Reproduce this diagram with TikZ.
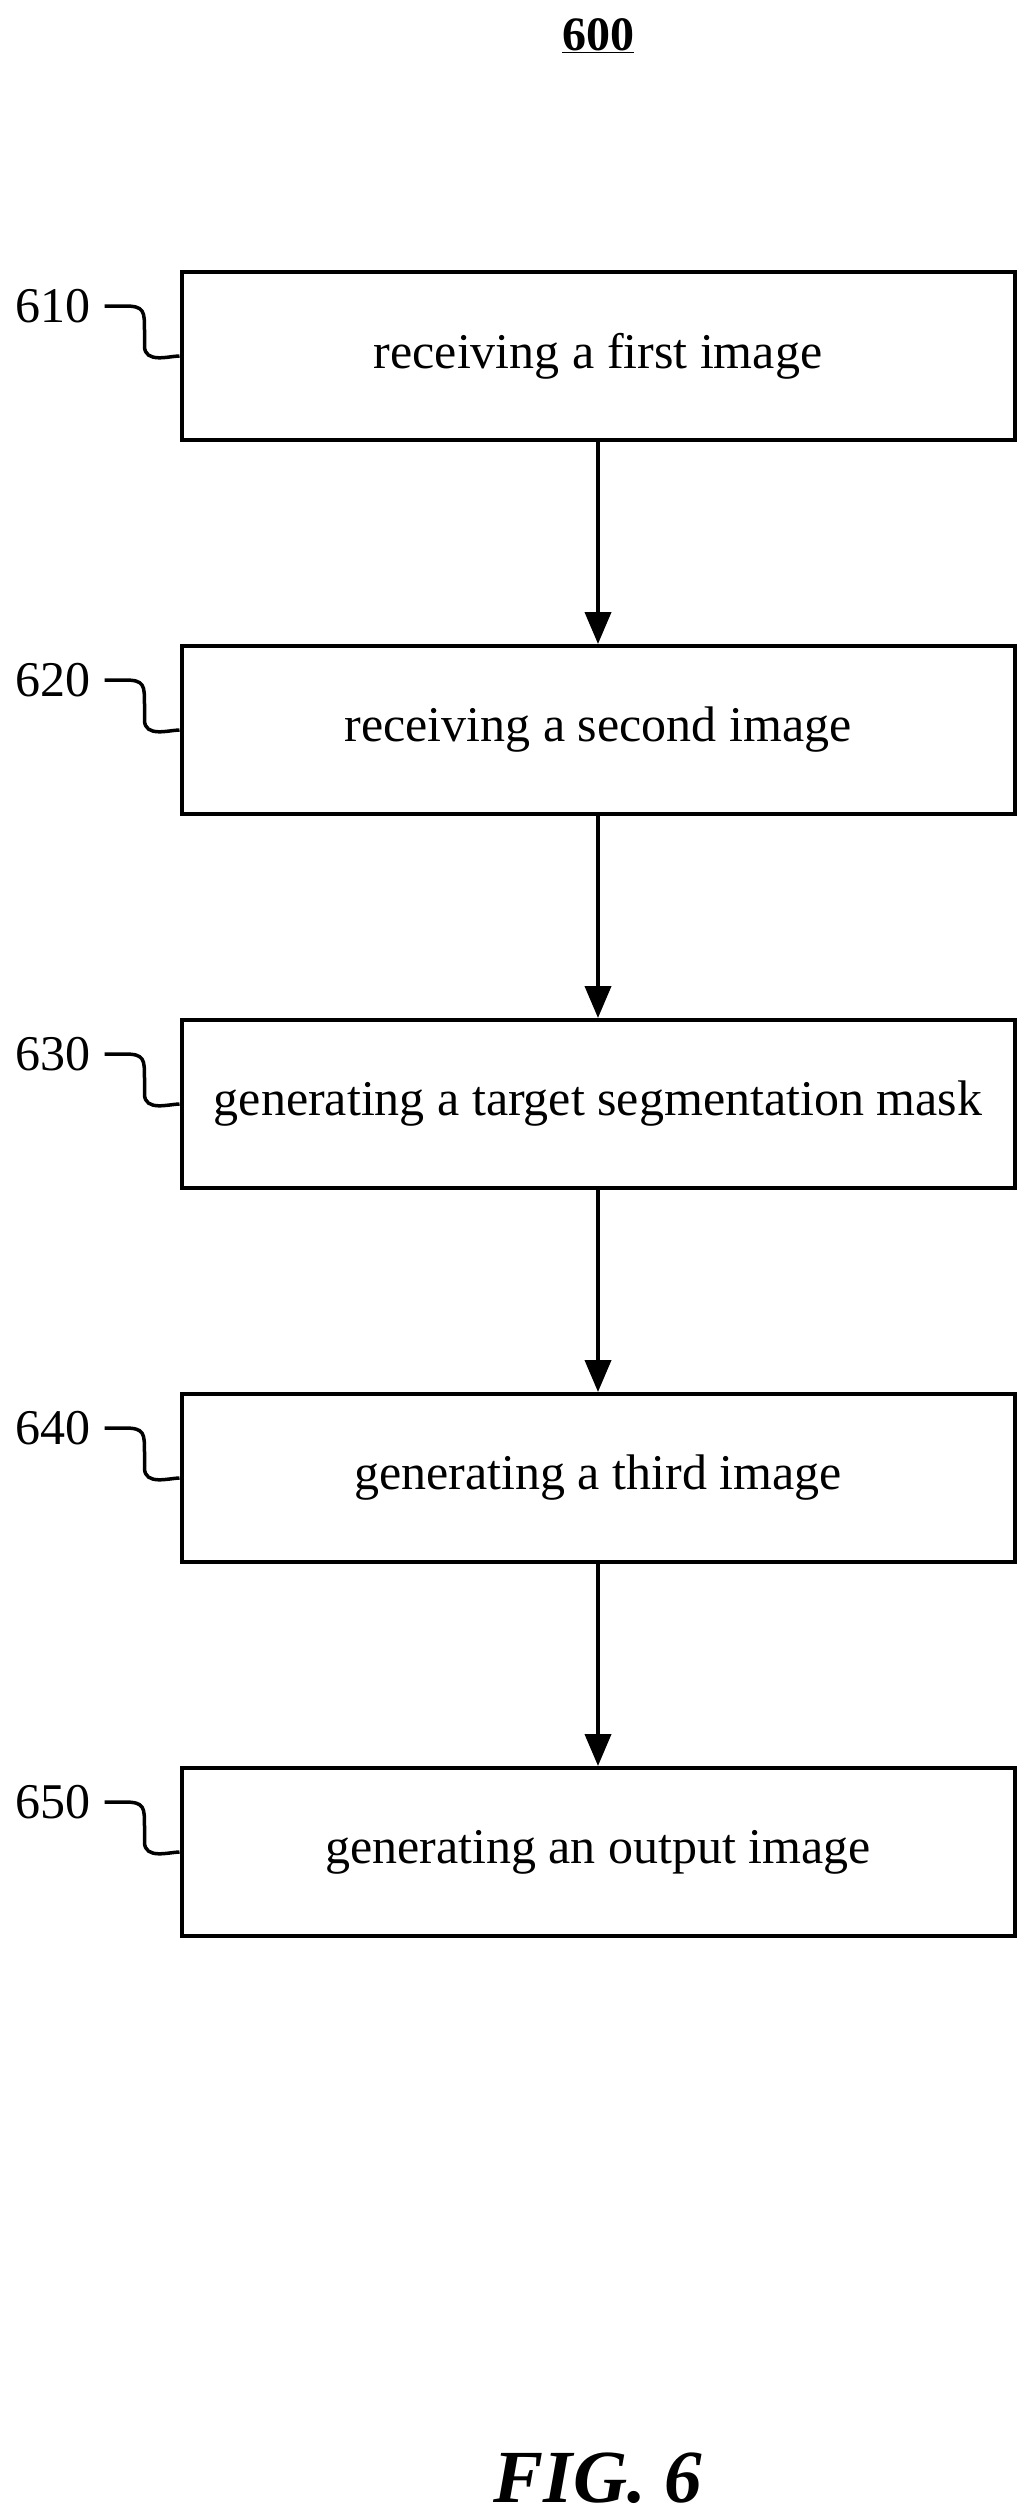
\documentclass[tikz,border=0pt]{standalone}
\usepackage{fontspec}
\setmainfont{Liberation Serif}
\usetikzlibrary{positioning,arrows.meta}

\begin{document}
\begin{tikzpicture}[x=1pt, y=-1pt,
    block/.style={draw, line width=4pt, minimum width=833pt, minimum height=168pt,
                 font=\fontsize{50}{58}\selectfont},
    ref/.style={font=\fontsize{50}{58}\selectfont, anchor=east},
    flow/.style={-{Triangle[length=32pt, width=26pt]}, line width=4pt},
    tag/.style={line width=3.5pt}
 ]
\useasboundingbox (0,0) rectangle (1031,2516);
\node[font=\fontsize{48}{56}\bfseries\selectfont] (T) at (598,36) {\underline{600}};

\node[block] (S1) at (598,356) {receiving a first image};
\node[block, below=202pt of S1] (S2) {receiving a second image};
\node[block, below=202pt of S2] (S3) {generating a target segmentation mask};
\node[block, below=202pt of S3] (S4) {generating a third image};
\node[block, below=202pt of S4] (S5) {generating an output image};

\foreach \a/\b in {S1/S2, S2/S3, S3/S4, S4/S5}
    \draw[flow] (\a) -- (\b);

% reference numerals
\foreach \s/\n in {S1/610, S2/620, S3/630, S4/640, S5/650} {
    \node[ref] (L\n) at ([shift={(-85,-50)}]\s.west) {\n};
    \draw[tag] ([xshift=10pt]L\n.east) -- ++(20,0)
        .. controls ++(20,0) and ++(0,-20) .. ++(20,25) -- ++(0,15)
        .. controls ++(0,18) and ++(-10,0) .. (\s.west);
}

\node[font=\fontsize{75}{85}\bfseries\itshape\selectfont] (F) at (598,2478) {FIG. 6};
\end{tikzpicture}
\end{document}
